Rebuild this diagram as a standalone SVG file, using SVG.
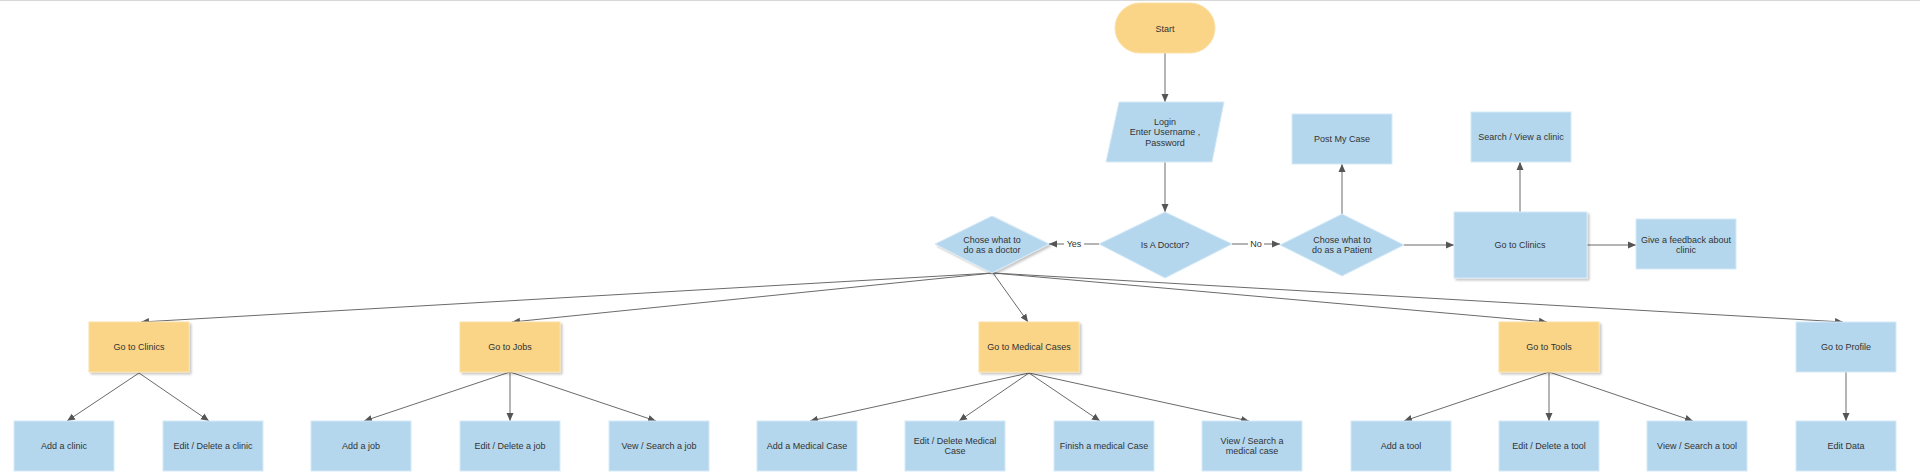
<svg xmlns="http://www.w3.org/2000/svg" width="1920" height="473" viewBox="0 0 1920 473">
<style>
text{font-family:"Liberation Sans",Arial,sans-serif;font-size:9px;fill:#333;text-anchor:middle;dominant-baseline:central}
.b{fill:#b4d7ee;stroke:#d6e9f7;stroke-width:1}
.o{fill:#fad587;stroke:#fbe0a6;stroke-width:1}
.e{fill:none;stroke:#6b6b6b;stroke-width:1}
.lbl{fill:#fff}
</style>
<defs>
<marker id="ah" viewBox="0 0 8 8" refX="8" refY="4" markerWidth="8" markerHeight="8" markerUnits="userSpaceOnUse" orient="auto">
<path d="M0,0.5 L8,4 L0,7.5 Z" fill="#555"/>
</marker>
<filter id="sh" x="-10%" y="-10%" width="130%" height="140%">
<feDropShadow dx="2" dy="2" stdDeviation="1.2" flood-color="#000" flood-opacity="0.22"/>
</filter>
</defs>
<rect x="0" y="0" width="1920" height="473" fill="#fff"/>
<line x1="0" y1="0.5" x2="1920" y2="0.5" stroke="#d8d8d8" stroke-width="1"/>

<g id="connectors">
<line class="e" x1="1165" y1="53" x2="1165" y2="102" marker-end="url(#ah)"/>
<line class="e" x1="1165" y1="162" x2="1165" y2="212" marker-end="url(#ah)"/>
<line class="e" x1="1099" y1="244" x2="1049" y2="244" marker-end="url(#ah)"/>
<line class="e" x1="1232" y1="244" x2="1280" y2="244" marker-end="url(#ah)"/>
<line class="e" x1="1342" y1="214" x2="1342" y2="164" marker-end="url(#ah)"/>
<line class="e" x1="1404" y1="245" x2="1454" y2="245" marker-end="url(#ah)"/>
<line class="e" x1="1520" y1="212" x2="1520" y2="162" marker-end="url(#ah)"/>
<line class="e" x1="1587" y1="245" x2="1636" y2="245" marker-end="url(#ah)"/>
<line class="e" x1="993" y1="273" x2="141" y2="322" marker-end="url(#ah)"/>
<line class="e" x1="993" y1="273" x2="512" y2="322" marker-end="url(#ah)"/>
<line class="e" x1="993" y1="273" x2="1028" y2="322" marker-end="url(#ah)"/>
<line class="e" x1="993" y1="273" x2="1547" y2="322" marker-end="url(#ah)"/>
<line class="e" x1="993" y1="273" x2="1843" y2="322" marker-end="url(#ah)"/>
<line class="e" x1="139" y1="373" x2="67" y2="421" marker-end="url(#ah)"/>
<line class="e" x1="139" y1="373" x2="209" y2="421" marker-end="url(#ah)"/>
<line class="e" x1="510" y1="372" x2="364" y2="421" marker-end="url(#ah)"/>
<line class="e" x1="510" y1="372" x2="510" y2="421" marker-end="url(#ah)"/>
<line class="e" x1="510" y1="372" x2="656" y2="421" marker-end="url(#ah)"/>
<line class="e" x1="1029" y1="373" x2="810" y2="421" marker-end="url(#ah)"/>
<line class="e" x1="1029" y1="373" x2="959" y2="421" marker-end="url(#ah)"/>
<line class="e" x1="1029" y1="373" x2="1100" y2="421" marker-end="url(#ah)"/>
<line class="e" x1="1029" y1="373" x2="1249" y2="421" marker-end="url(#ah)"/>
<line class="e" x1="1549" y1="372" x2="1404" y2="421" marker-end="url(#ah)"/>
<line class="e" x1="1549" y1="372" x2="1549" y2="421" marker-end="url(#ah)"/>
<line class="e" x1="1549" y1="372" x2="1693" y2="421" marker-end="url(#ah)"/>
<line class="e" x1="1846" y1="372" x2="1846" y2="421" marker-end="url(#ah)"/>
<rect class="lbl" x="1064" y="238" width="20" height="12"/>
<text x="1074" y="244">Yes</text>
<rect class="lbl" x="1248" y="238" width="16" height="12"/>
<text x="1256" y="244">No</text>
</g>

<g id="start"><rect x="1115" y="3" width="100" height="50" rx="25" ry="25" class="o"/><text x="1165" y="29">Start</text></g>
<g id="login"><polygon points="1119,102 1224,102 1212,162 1106,162" class="b"/><text x="1165" y="122">Login</text><text x="1165" y="132">Enter Username ,</text><text x="1165" y="143">Password</text></g>
<g id="isdoctor"><polygon points="1165,212 1232,244 1165,278 1099,244" class="b"/><text x="1165" y="245">Is A Doctor?</text></g>
<g id="doctor"><polygon points="992,216 1049,244 992,273 935,244" class="b" filter="url(#sh)"/><text x="992" y="240">Chose what to</text><text x="992" y="250">do as a doctor</text></g>
<g id="patient"><polygon points="1342,214 1404,245 1342,276 1280,245" class="b"/><text x="1342" y="240">Chose what to</text><text x="1342" y="250">do as a Patient</text></g>
<g id="postcase"><rect x="1292" y="114" width="100" height="50" class="b"/><text x="1342" y="139">Post My Case</text></g>
<g id="searchclinic"><rect x="1471" y="112" width="100" height="50" class="b"/><text x="1521" y="137">Search / View a clinic</text></g>
<g id="pclinics"><rect x="1454" y="212" width="133" height="66" class="b" filter="url(#sh)"/><text x="1520" y="245">Go to Clinics</text></g>
<g id="feedback"><rect x="1636" y="219" width="100" height="50" class="b"/><text x="1686" y="240">Give a feedback about</text><text x="1686" y="250">clinic</text></g>

<g id="dclinics"><rect x="89" y="322" width="100" height="50" class="o" filter="url(#sh)"/><text x="139" y="347">Go to Clinics</text></g>
<g id="jobs"><rect x="460" y="322" width="100" height="50" class="o" filter="url(#sh)"/><text x="510" y="347">Go to Jobs</text></g>
<g id="medical"><rect x="979" y="322" width="100" height="50" class="o" filter="url(#sh)"/><text x="1029" y="347">Go to Medical Cases</text></g>
<g id="tools"><rect x="1499" y="322" width="100" height="50" class="o" filter="url(#sh)"/><text x="1549" y="347">Go to Tools</text></g>
<g id="profile"><rect x="1796" y="322" width="100" height="50" class="b"/><text x="1846" y="347">Go to Profile</text></g>

<g id="addclinic"><rect x="14" y="421" width="100" height="50" class="b"/><text x="64" y="446">Add a clinic</text></g>
<g id="editclinic"><rect x="163" y="421" width="100" height="50" class="b"/><text x="213" y="446">Edit / Delete a clinic</text></g>
<g id="addjob"><rect x="311" y="421" width="100" height="50" class="b"/><text x="361" y="446">Add a job</text></g>
<g id="editjob"><rect x="460" y="421" width="100" height="50" class="b"/><text x="510" y="446">Edit / Delete a job</text></g>
<g id="viewjob"><rect x="609" y="421" width="100" height="50" class="b"/><text x="659" y="446">Vew / Search a job</text></g>
<g id="addmed"><rect x="757" y="421" width="100" height="50" class="b"/><text x="807" y="446">Add a Medical Case</text></g>
<g id="editmed"><rect x="905" y="421" width="100" height="50" class="b"/><text x="955" y="441">Edit / Delete Medical</text><text x="955" y="451">Case</text></g>
<g id="finishmed"><rect x="1054" y="421" width="100" height="50" class="b"/><text x="1104" y="446">Finish a medical Case</text></g>
<g id="viewmed"><rect x="1202" y="421" width="100" height="50" class="b"/><text x="1252" y="441">View / Search a</text><text x="1252" y="451">medical case</text></g>
<g id="addtool"><rect x="1351" y="421" width="100" height="50" class="b"/><text x="1401" y="446">Add a tool</text></g>
<g id="edittool"><rect x="1499" y="421" width="100" height="50" class="b"/><text x="1549" y="446">Edit / Delete a tool</text></g>
<g id="viewtool"><rect x="1647" y="421" width="100" height="50" class="b"/><text x="1697" y="446">View / Search a tool</text></g>
<g id="editdata"><rect x="1796" y="421" width="100" height="50" class="b"/><text x="1846" y="446">Edit Data</text></g>
</svg>
